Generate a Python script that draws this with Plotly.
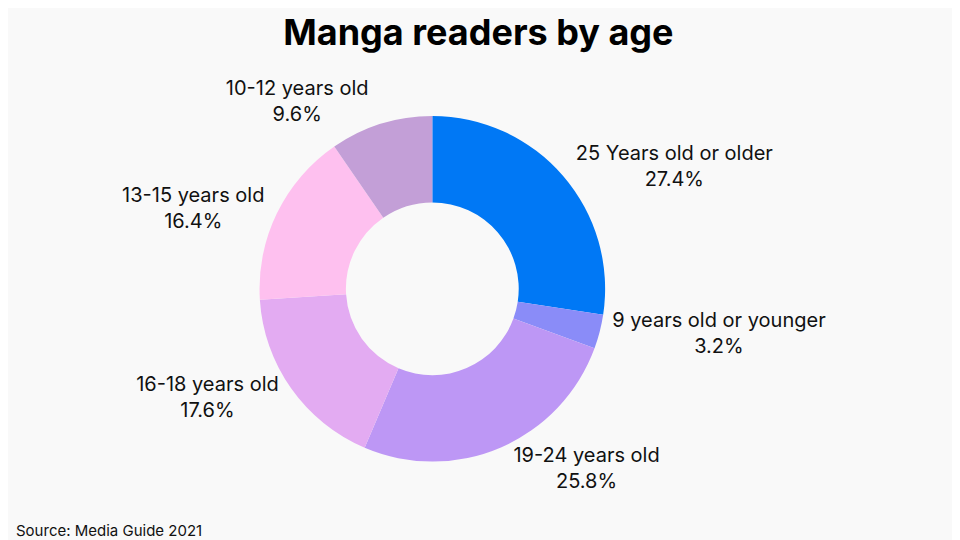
import plotly.graph_objects as go

labels = ["25 Years old or older", "9 years old or younger", "19-24 years old",
          "16-18 years old", "13-15 years old", "10-12 years old"]
shares = [27.4, 3.2, 25.8, 17.6, 16.4, 9.6]
colors = ["#0078F5", "#8A8CF8", "#BD97F5", "#E3ABF2", "#FEC0EF", "#C39FD7"]

fig = go.Figure(go.Pie(
    labels=labels,
    values=shares,
    hole=0.5,
    sort=False,
    direction="clockwise",
    rotation=0,
    marker=dict(colors=colors, line=dict(width=0)),
    textposition="outside",
    texttemplate="%{label}<br>%{value}%",
    textfont=dict(family="Inter", size=20, color="#111111"),
    automargin=False,
    showlegend=False,
    domain=dict(x=[0.262, 0.622], y=[0.16, 0.80]),
))

fig.update_layout(
    width=960, height=540,
    paper_bgcolor="#F9F9F9",
    plot_bgcolor="#F9F9F9",
    margin=dict(l=0, r=0, t=0, b=0),
    title=dict(text="<b>Manga readers by age</b>", x=0.49, xanchor="center",
               y=0.955, yanchor="middle",
               font=dict(family="Inter", size=36, color="#000000")),
)
fig.add_annotation(text="Source: Media Guide 2021", x=0.006, y=0.012,
                   xref="paper", yref="paper", xanchor="left", yanchor="bottom",
                   showarrow=False, font=dict(family="Inter", size=15, color="#111111"))

fig.write_html("out.html")
